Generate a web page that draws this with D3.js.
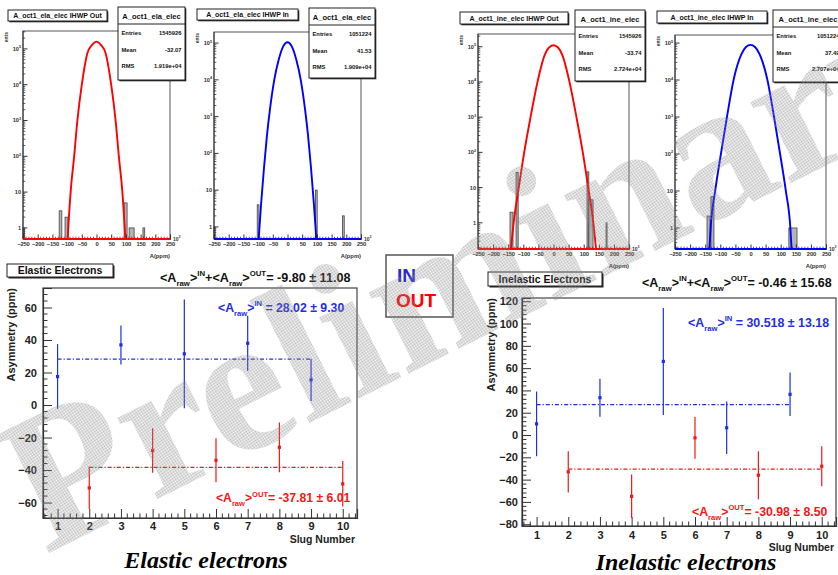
<!DOCTYPE html>
<html><head><meta charset="utf-8">
<script src="https://cdn.jsdelivr.net/npm/d3@7"></script>
<style>
body{margin:0;background:#fff}
svg{display:block}
text{font-family:'Liberation Sans',Arial,Helvetica,sans-serif;font-weight:bold}
</style>
</head><body>
<svg id="c" width="838" height="575"></svg>
<script>
// ---------------- DATA ----------------
const slugNumbers = [1,2,3,4,5,6,7,8,9,10];

const elasticInSlugs = [1,3,5,7,9];
const elasticInValues = [17.5, 37, 31.5, 38, 15.5];
const elasticInErrors = [20, 12, 33.5, 17, 13];
const elasticInMean = 28.3;
const elasticOutSlugs = [2,4,6,8,10];
const elasticOutValues = [-51, -28, -34, -26, -48.5];
const elasticOutErrors = [13, 13.7, 13.5, 15.3, 14];
const elasticOutMean = -38.4;
const elasticYTicks = [-60,-40,-20,0,20,40,60];

const inelasticInSlugs = [1,3,5,7,9];
const inelasticInValues = [10, 33.5, 66, 6.5, 36.5];
const inelasticInErrors = [29, 17, 48, 23.5, 19.5];
const inelasticInMean = 27.3;
const inelasticOutSlugs = [2,4,6,8,10];
const inelasticOutValues = [-33, -55, -2.5, -36, -28];
const inelasticOutErrors = [18.5, 19.5, 18.7, 21.5, 18];
const inelasticOutMean = -30.5;
const inelasticYTicks = [-80,-60,-40,-20,0,20,40,60,80,100,120];

const histTitles = ["A_oct1_ela_elec IHWP Out","A_oct1_ela_elec IHWP In","A_oct1_ine_elec IHWP Out","A_oct1_ine_elec IHWP In"];
const histNames = ["A_oct1_ela_elec","A_oct1_ela_elec","A_oct1_ine_elec","A_oct1_ine_elec"];
const histEntries = ["1545926","1051224","1545926","1051224"];
const histMeans = ["-32.07","41.53","-33.74","37.49"];
const histRMS = ["1.919e+04","1.909e+04","2.724e+04","2.707e+04"];
const histXTicks = [-250,-200,-150,-100,-50,0,50,100,150,200,250];

// fit curves: [A(ppm), counts]
const fitElasticOut = [[-98,0.5],[-96,1],[-88,10],[-76,100],[-65,1000],[-50,1e4],[-31,7.6e4],[-15,1.3e5],[0,1.6e5],[15,1.3e5],[31,7.6e4],[50,1e4],[65,1000],[76,100],[88,10],[96,1],[98,0.5]];
const fitElasticIn = [[-98,0.47],[-90,4],[-80,40],[-70,300],[-60,1500],[-45,1e4],[-30,3.5e4],[-15,8e4],[0,1.05e5],[15,8e4],[30,3.5e4],[45,1e4],[60,1500],[70,300],[80,40],[90,4],[98,0.47]];
const fitInelasticOut = [[-141,0.18],[-132,1],[-115,10],[-97,100],[-76,1000],[-53,1e4],[-30,5.6e4],[-15,9.5e4],[0,1.1e5],[15,9.5e4],[30,5.6e4],[53,1e4],[76,1000],[97,100],[115,10],[132,1],[141,0.18]];
const fitInelasticIn = [[-136,0.27],[-132,1],[-117,10],[-98,100],[-78,1000],[-55,1.1e4],[-30,5e4],[-15,7.8e4],[0,8.9e4],[15,7.8e4],[30,5e4],[55,1.1e4],[78,1000],[98,100],[117,10],[132,1],[136,0.27]];

// visible histogram bins outside the fit: [low, high, counts]
const binsElasticOut = [[-250,-245,1],[-127,-118,3],[-107,-97,2],[94,104,5],[111,128,1],[158,164,1]];
const binsElasticIn = [[-250,-246,1],[-103,-97,4],[95,101,10],[187,193,2]];
const binsInelasticOut = [[-144,-134,2],[-124,-117,27],[111,117,28],[117,131,4.5],[174,177,1]];
const binsInelasticIn = [[-144,-134,2.1],[-131,-121,7],[127,154,1]];

const watermarkText = "Preliminary";

// ---------------- DRAW ----------------
const svg = d3.select('#c');
const BLUE = '#1f2fe0', RED = '#f01818';
const SERIF = "'Liberation Serif','Times New Roman',Times,serif";
const defs = svg.append('defs');
const pat = defs.append('pattern').attr('id','dots').attr('width',2).attr('height',2).attr('patternUnits','userSpaceOnUse');
pat.append('rect').attr('width',1).attr('height',1).attr('fill','#8c8c8c');
pat.append('rect').attr('x',1).attr('y',1).attr('width',1).attr('height',1).attr('fill','#8c8c8c');

function richText(sel, list, fs){
  let cur = 0;
  list.forEach(([t,kind])=>{
    const target = kind==='sub' ? fs*0.3 : kind==='sup' ? -fs*0.45 : 0;
    const ts = sel.append('tspan').attr('dy', target-cur).text(t);
    if(kind) ts.attr('font-size', fs*0.62);
    cur = target;
  });
}

function shadowBox(g, x0, y0, x1, y1, sh){
  g.append('rect').attr('x',x0+sh).attr('y',y0+sh).attr('width',x1-x0).attr('height',y1-y0).attr('fill','#222');
  g.append('rect').attr('x',x0).attr('y',y0).attr('width',x1-x0).attr('height',y1-y0).attr('fill','#fff').attr('stroke','#222').attr('stroke-width',1);
}

function histPanel(i, cfg){
  const g = svg.append('g');
  const x = d3.scaleLinear().domain([-250,250]).range([cfg.x0, cfg.x1]);
  const y = d3.scaleLog().domain(cfg.yDomain).range([cfg.y1, cfg.y0]).clamp(true);
  g.selectAll('rect.bin').data(cfg.bins).join('rect').attr('class','bin')
    .attr('x', d=>x(d[0])).attr('width', d=>Math.max(1,x(d[1])-x(d[0])))
    .attr('y', d=>y(d[2])).attr('height', d=>cfg.y1-y(d[2]))
    .attr('fill','#b4b4b4').attr('stroke','#444').attr('stroke-width',0.8);
  g.append('rect').attr('x',cfg.x0).attr('y',cfg.y0).attr('width',cfg.x1-cfg.x0).attr('height',cfg.y1-cfg.y0)
    .attr('fill','none').attr('stroke','#555').attr('stroke-width',1);
  const xa = g.append('g').attr('transform',`translate(0,${cfg.y1})`)
    .call(d3.axisBottom(x).tickValues(histXTicks).tickSize(-4.5).tickPadding(3).tickFormat(d3.format('d')));
  xa.select('.domain').attr('stroke','#333');
  xa.selectAll('line').attr('stroke','#333');
  xa.selectAll('text').attr('font-size',5.8).attr('fill','#333').attr('letter-spacing',-0.2);
  g.selectAll('line.xminor').data(d3.range(-240,250,10).filter(v=>v%50!==0)).join('line').attr('class','xminor')
    .attr('x1',d=>x(d)).attr('x2',d=>x(d)).attr('y1',cfg.y1).attr('y2',cfg.y1-2.3).attr('stroke','#333').attr('stroke-width',0.8);
  const decades = [1,10,100,1000,10000,100000].filter(v=>v>=cfg.yDomain[0] && v<=cfg.yDomain[1]);
  g.append('line').attr('x1',cfg.x0).attr('x2',cfg.x0).attr('y1',cfg.y0).attr('y2',cfg.y1).attr('stroke','#333');
  const minors = [];
  [0.1,1,10,100,1000,10000,100000].forEach(dv=>{for(let k=2;k<=9;k++){const v=dv*k; if(v>cfg.yDomain[0]&&v<cfg.yDomain[1]) minors.push(v);}});
  g.selectAll('line.yminor').data(minors).join('line').attr('class','yminor')
    .attr('x1',cfg.x0).attr('x2',cfg.x0+2.3).attr('y1',d=>y(d)).attr('y2',d=>y(d)).attr('stroke','#333').attr('stroke-width',0.8);
  g.selectAll('line.ymajor').data(decades).join('line').attr('class','ymajor')
    .attr('x1',cfg.x0).attr('x2',cfg.x0+4.5).attr('y1',d=>y(d)).attr('y2',d=>y(d)).attr('stroke','#333');
  decades.forEach(v=>{
    const t = g.append('text').attr('x',cfg.x0-2).attr('y',y(v)+2).attr('text-anchor','end').attr('font-size',5.6).attr('fill','#333');
    const e = Math.round(Math.log10(v));
    if(e===0) t.text('1'); else if(e===1) t.text('10');
    else { t.append('tspan').text('10'); t.append('tspan').attr('dy',-2.5).attr('font-size',3.8).text(String(e)); }
  });
  g.append('path').datum(cfg.curve)
    .attr('d', d3.line().x(d=>x(d[0])).y(d=>y(d[1])).curve(d3.curveMonotoneX))
    .attr('fill','none').attr('stroke',cfg.color).attr('stroke-width',1.9);
  g.append('line').attr('x1',x(-250)).attr('x2',x(250)).attr('y1',cfg.y1).attr('y2',cfg.y1)
    .attr('stroke',cfg.color).attr('stroke-width',1.9);
  const ex = g.append('text').attr('x',cfg.x1+3).attr('y',cfg.y1+1.5).attr('font-size',5).attr('fill','#333');
  ex.append('tspan').text('10'); ex.append('tspan').attr('dy',-2.3).attr('font-size',3.5).text('3');
  g.append('text').attr('x',cfg.x1).attr('y',cfg.y1+19).attr('text-anchor','end').attr('font-size',5.8).attr('fill','#333').text('A(ppm)');
  g.append('text').attr('transform',`translate(${cfg.x0-15},${cfg.y0+1}) rotate(-90)`).attr('text-anchor','end')
    .attr('font-size',5).attr('fill','#333').text('ents');
  shadowBox(g, cfg.title[0], cfg.title[1], cfg.title[2], cfg.title[3], 1.3);
  g.append('text').attr('x',(cfg.title[0]+cfg.title[2])/2).attr('y',(cfg.title[1]+cfg.title[3])/2+2.5)
    .attr('text-anchor','middle').attr('font-size',7).attr('fill','#111').text(histTitles[i]);
  const s = cfg.stats;
  shadowBox(g, s[0], s[1], s[2], s[3], 1.3);
  g.append('line').attr('x1',s[0]).attr('x2',s[2]).attr('y1',s[1]+17).attr('y2',s[1]+17).attr('stroke','#222');
  g.append('text').attr('x',(s[0]+s[2])/2).attr('y',s[1]+11.5).attr('text-anchor','middle').attr('font-size',7.5).attr('fill','#111').text(histNames[i]);
  const rows = [['Entries',histEntries[i]],['Mean',histMeans[i]],['RMS',histRMS[i]]];
  rows.forEach((r,k)=>{
    const yy = s[1]+28+k*16.5;
    g.append('text').attr('x',s[0]+3.5).attr('y',yy).attr('font-size',5.8).attr('fill','#111').text(r[0]);
    g.append('text').attr('x',s[2]-3.5).attr('y',yy).attr('text-anchor','end').attr('font-size',5.8).attr('fill','#111').text(r[1]);
  });
}

histPanel(0,{x0:23,x1:170,y0:31,y1:239,yDomain:[0.49,3.16e5],curve:fitElasticOut,bins:binsElasticOut,color:'#ff0000',
  title:[8,10,107,21],stats:[118,7,185,80]});
histPanel(1,{x0:214,x1:361,y0:32,y1:239,yDomain:[0.47,2.0e5],curve:fitElasticIn,bins:binsElasticIn,color:'#0000ff',
  title:[197,9,298,20],stats:[309,8,375,78]});
histPanel(2,{x0:478,x1:629,y0:34,y1:249,yDomain:[0.18,2.3e5],curve:fitInelasticOut,bins:binsInelasticOut,color:'#ff0000',
  title:[460,12,568,24],stats:[575,10,645,81]});
histPanel(3,{x0:675,x1:826,y0:35,y1:249,yDomain:[0.27,1.65e5],curve:fitInelasticIn,bins:binsInelasticIn,color:'#0000ff',
  title:[657,11,767,23],stats:[773,10,843,82]});

function asymChart(cfg){
  const g = svg.append('g');
  const x = d3.scaleLinear().domain([0.54,10.45]).range([cfg.x0,cfg.x1]);
  const y = d3.scaleLinear().domain(cfg.yDomain).range([cfg.y1,cfg.y0]);
  g.append('rect').attr('x',cfg.x0).attr('y',cfg.y0).attr('width',cfg.x1-cfg.x0).attr('height',cfg.y1-cfg.y0)
    .attr('fill','none').attr('stroke','#444').attr('stroke-width',1.2);
  const ya = g.append('g').attr('transform',`translate(${cfg.x0},0)`)
    .call(d3.axisLeft(y).tickValues(cfg.yTicks).tickSize(-9).tickPadding(cfg.yPad).tickFormat(d3.format('d')));
  ya.select('.domain').attr('stroke','#333').attr('stroke-width',1.2);
  ya.selectAll('line').attr('stroke','#333');
  ya.selectAll('text').attr('font-size',11).attr('fill','#222');
  const step = cfg.yTicks[1]-cfg.yTicks[0];
  g.selectAll('line.ym').data(d3.range(Math.ceil(cfg.yDomain[0]/(step/5))*(step/5), cfg.yDomain[1], step/5).filter(v=>Math.abs(v%step)>1e-6))
    .join('line').attr('class','ym').attr('x1',cfg.x0).attr('x2',cfg.x0+4.5).attr('y1',d=>y(d)).attr('y2',d=>y(d)).attr('stroke','#333');
  const xa = g.append('g').attr('transform',`translate(0,${cfg.y1})`)
    .call(d3.axisBottom(x).tickValues(slugNumbers).tickSize(-9).tickPadding(cfg.xPad).tickFormat(d3.format('d')));
  xa.select('.domain').attr('stroke','#333').attr('stroke-width',1.2);
  xa.selectAll('line').attr('stroke','#333');
  xa.selectAll('text').attr('font-size',11).attr('fill','#222');
  g.selectAll('line.xm').data(d3.range(0.6,10.45,0.2).filter(v=>Math.abs(v-Math.round(v))>0.05))
    .join('line').attr('class','xm').attr('x1',d=>x(d)).attr('x2',d=>x(d)).attr('y1',cfg.y1).attr('y2',cfg.y1-4.5).attr('stroke','#333');
  g.append('text').attr('transform',`translate(${cfg.x0-cfg.ytitleOff},${cfg.y0}) rotate(-90)`).attr('text-anchor','end')
    .attr('font-size',11).attr('fill','#222').text('Asymmetry (ppm)');
  g.append('text').attr('x',cfg.x1-2).attr('y',cfg.y1+cfg.xtitleOff).attr('text-anchor','end').attr('font-size',10.5).attr('fill','#222').text('Slug Number');
  cfg.series.forEach(s=>{
    const pts = s.slugs.map((v,k)=>({sx:v, val:s.values[k], err:s.errors[k]}));
    g.append('line').attr('x1',x(s.slugs[0])).attr('x2',x(s.slugs[s.slugs.length-1]))
      .attr('y1',y(s.mean)).attr('y2',y(s.mean)).attr('stroke',s.color).attr('stroke-width',1.2).attr('stroke-dasharray','4,2,1.2,2');
    g.selectAll(null).data(pts).join('line')
      .attr('x1',d=>x(d.sx)).attr('x2',d=>x(d.sx)).attr('y1',d=>y(d.val+d.err)).attr('y2',d=>y(d.val-d.err))
      .attr('stroke',s.color).attr('stroke-width',1.2);
    g.selectAll(null).data(pts).join('rect')
      .attr('x',d=>x(d.sx)-1.6).attr('y',d=>y(d.val)-1.6).attr('width',3.2).attr('height',3.2).attr('fill',s.color);
  });
  cfg.texts.forEach(t=>{
    const el = g.append('text').attr('x',t.x).attr('y',t.y).attr('font-size',t.fs).attr('fill',t.color);
    richText(el, t.parts, t.fs);
  });
  shadowBox(g, cfg.box[0], cfg.box[1], cfg.box[2], cfg.box[3], 1.5);
  g.append('text').attr('x',(cfg.box[0]+cfg.box[2])/2).attr('y',(cfg.box[1]+cfg.box[3])/2+3.8).attr('text-anchor','middle')
    .attr('font-size',10.5).attr('fill','#111').text(cfg.boxLabel);
}

asymChart({x0:43,x1:357,y0:288,y1:518,yDomain:[-69.5,72],yTicks:elasticYTicks,yPad:6,xPad:4,ytitleOff:28,xtitleOff:25,
  series:[
    {slugs:elasticInSlugs,values:elasticInValues,errors:elasticInErrors,mean:elasticInMean,color:BLUE},
    {slugs:elasticOutSlugs,values:elasticOutValues,errors:elasticOutErrors,mean:elasticOutMean,color:RED}],
  texts:[
    {x:160,y:282,fs:12.6,color:'#111',parts:[['<A'],['raw','sub'],['>'],['IN','sup'],['+<A'],['raw','sub'],['>'],['OUT','sup'],['= -9.80 ± 11.08']]},
    {x:218,y:312,fs:12.3,color:BLUE,parts:[['<A'],['raw','sub'],['>'],['IN','sup'],[' = 28.02 ± 9.30']]},
    {x:216,y:502,fs:12.2,color:RED,parts:[['<A'],['raw','sub'],['>'],['OUT','sup'],['= -37.81 ± 6.01']]}],
  box:[7,264,113,277],boxLabel:'Elastic Electrons'});

asymChart({x0:522,x1:836,y0:298,y1:526,yDomain:[-81.6,122.9],yTicks:inelasticYTicks,yPad:4,xPad:5,ytitleOff:27,xtitleOff:25,
  series:[
    {slugs:inelasticInSlugs,values:inelasticInValues,errors:inelasticInErrors,mean:inelasticInMean,color:BLUE},
    {slugs:inelasticOutSlugs,values:inelasticOutValues,errors:inelasticOutErrors,mean:inelasticOutMean,color:RED}],
  texts:[
    {x:642,y:287,fs:12.5,color:'#111',parts:[['<A'],['raw','sub'],['>'],['IN','sup'],['+<A'],['raw','sub'],['>'],['OUT','sup'],['= -0.46 ± 15.68']]},
    {x:688,y:327,fs:12.4,color:BLUE,parts:[['<A'],['raw','sub'],['>'],['IN','sup'],[' = 30.518 ± 13.18']]},
    {x:692,y:516,fs:12.3,color:RED,parts:[['<A'],['raw','sub'],['>'],['OUT','sup'],['= -30.98 ± 8.50']]}],
  box:[488,272,602,286],boxLabel:'Inelastic Electrons'});

svg.append('rect').attr('x',386).attr('y',255).attr('width',67).attr('height',62).attr('fill','none').attr('stroke','#555').attr('stroke-width',1.5);
svg.append('text').attr('x',397).attr('y',282).attr('font-size',19).attr('fill','#2a2ad0').text('IN');
svg.append('text').attr('x',396).attr('y',307).attr('font-size',19).attr('fill','#ff0000').text('OUT');

svg.append('text').attr('x',206).attr('y',568).attr('text-anchor','middle').style('font-family',SERIF)
  .style('font-style','italic').style('font-weight','bold').attr('font-size',24).attr('fill','#000').text('Elastic electrons');
svg.append('text').attr('x',686).attr('y',570).attr('text-anchor','middle').style('font-family',SERIF)
  .style('font-style','italic').style('font-weight','bold').attr('font-size',24).attr('fill','#000').text('Inelastic electrons');

svg.append('text').attr('transform','translate(45,555) rotate(-26.5)')
  .style('font-family',SERIF).style('font-weight','bold').attr('font-size',197)
  .attr('fill','url(#dots)').attr('opacity',0.6).text(watermarkText);
</script>
</body></html>
